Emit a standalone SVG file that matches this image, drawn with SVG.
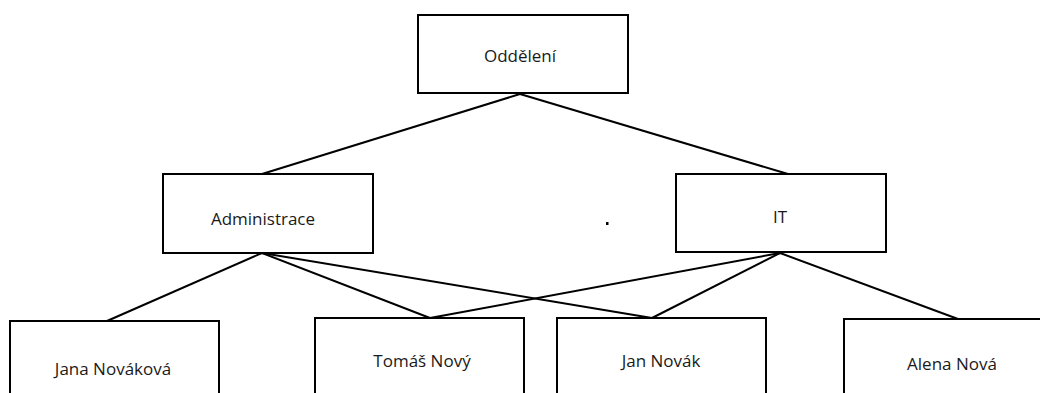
<svg xmlns="http://www.w3.org/2000/svg" width="1040" height="393" viewBox="0 0 1040 393">
  <style>
    .box { fill: #ffffff; stroke: #000000; stroke-width: 2; }
    .edge { stroke: #000000; stroke-width: 2; fill: none; }
    .label { font-family: "Open Sans", "Noto Sans", sans-serif; font-size: 17px; fill: #1a1a1a; text-anchor: middle; dominant-baseline: central; }
  </style>
  <rect width="1040" height="393" fill="#ffffff"/>
  <g id="connectors">
    <line class="edge" x1="520" y1="94" x2="262" y2="174"/>
    <line class="edge" x1="520" y1="94" x2="788" y2="174"/>
    <line class="edge" x1="262" y1="253" x2="107" y2="321"/>
    <line class="edge" x1="262" y1="253" x2="430" y2="318"/>
    <line class="edge" x1="262" y1="253" x2="652" y2="318"/>
    <line class="edge" x1="780" y1="253" x2="430" y2="318"/>
    <line class="edge" x1="780" y1="253" x2="652" y2="318"/>
    <line class="edge" x1="780" y1="253" x2="958" y2="319"/>
  </g>
  <g id="oddeleni">
    <rect class="box" x="418" y="15" width="210" height="78"/>
    <text class="label" x="520" y="55">Oddělení</text>
  </g>
  <g id="administrace">
    <rect class="box" x="163" y="174" width="210" height="79"/>
    <text class="label" x="263" y="218">Administrace</text>
  </g>
  <g id="it">
    <rect class="box" x="676" y="174" width="210" height="78"/>
    <text class="label" x="780" y="216">IT</text>
  </g>
  <rect x="606" y="222" width="2.5" height="3" fill="#000000"/>
  <g id="jana-novakova">
    <rect class="box" x="10" y="321" width="209" height="90"/>
    <text class="label" x="113" y="368">Jana Nováková</text>
  </g>
  <g id="tomas-novy">
    <rect class="box" x="315" y="318" width="209" height="90"/>
    <text class="label" x="422" y="360">Tomáš Nový</text>
  </g>
  <g id="jan-novak">
    <rect class="box" x="557" y="318" width="209" height="90"/>
    <text class="label" x="661" y="360">Jan Novák</text>
  </g>
  <g id="alena-nova">
    <rect class="box" x="844" y="319" width="210" height="90"/>
    <text class="label" x="952" y="363">Alena Nová</text>
  </g>
</svg>
